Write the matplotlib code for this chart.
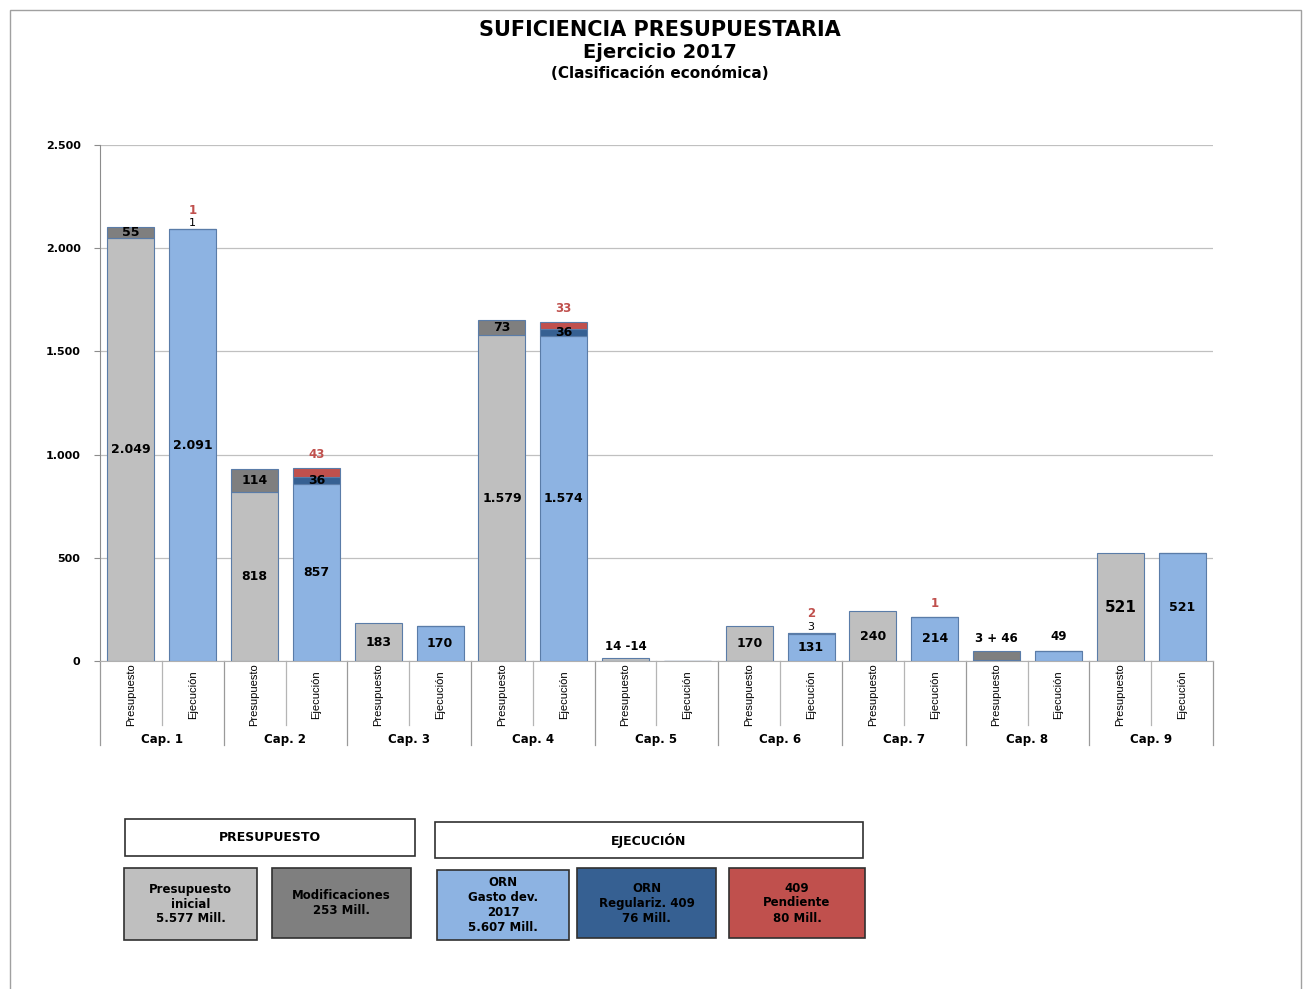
import matplotlib
matplotlib.use("Agg")
import matplotlib.pyplot as plt
from matplotlib.patches import Rectangle
from matplotlib.ticker import FuncFormatter
import matplotlib.transforms as mtransforms

# Datos (millones de euros)
caps = ["Cap. 1", "Cap. 2", "Cap. 3", "Cap. 4", "Cap. 5", "Cap. 6", "Cap. 7", "Cap. 8", "Cap. 9"]
pres_inicial = [2049, 818, 183, 1579, 14, 170, 240, 3, 521]
modificaciones = [55, 114, 0, 73, -14, 0, 0, 46, 0]
orn_gasto = [2091, 857, 170, 1574, 0, 131, 214, 49, 521]
orn_regulariz = [1, 36, 0, 36, 0, 3, 0, 0, 0]
pendiente_409 = [1, 43, 0, 33, 0, 2, 1, 0, 0]
# etiquetas combinadas sobre barras muy pequeñas
pres_top_labels = {4: "14 -14", 7: "3 + 46"}

C_INI = "#bfbfbf"
C_MOD = "#7f7f7f"
C_ORN = "#8db3e2"
C_REG = "#366092"
C_PEN = "#c0504d"
EDGE = "#5a7ca8"


def fmt(v):
    return f"{v:,}".replace(",", ".")


W, H = 1311, 989
fig = plt.figure(figsize=(W / 100, H / 100), dpi=100)
ax = fig.add_axes([100 / W, 1 - 661 / H, (1213 - 100) / W, (661 - 145) / H])

bw = 0.76
xp = [2 * i for i in range(len(caps))]
xe = [2 * i + 1 for i in range(len(caps))]

# Presupuesto: inicial + modificaciones
ax.bar(xp, pres_inicial, bw, color=C_INI, edgecolor=EDGE, linewidth=0.8, zorder=3)
ax.bar(xp, modificaciones, bw, bottom=[b if m > 0 else 0 for b, m in zip(pres_inicial, modificaciones)],
       color=C_MOD, edgecolor=EDGE, linewidth=0.8, zorder=3)

# Ejecución: ORN + regularización + pendiente
bot2 = [a + b for a, b in zip(orn_gasto, orn_regulariz)]
ax.bar(xe, orn_gasto, bw, color=C_ORN, edgecolor=EDGE, linewidth=0.8, zorder=3)
ax.bar(xe, orn_regulariz, bw, bottom=orn_gasto, color=C_REG, edgecolor=EDGE, linewidth=0.8, zorder=3)
ax.bar(xe, pendiente_409, bw, bottom=bot2, color=C_PEN, edgecolor=EDGE, linewidth=0.8, zorder=3)

lab = dict(fontsize=9, fontweight="bold", ha="center", va="center", zorder=5)

for i in range(len(caps)):
    ini, mod = pres_inicial[i], modificaciones[i]
    if i in pres_top_labels:
        ax.annotate(pres_top_labels[i], (xp[i], max(ini, ini + mod)), xytext=(0, 4),
                    textcoords="offset points", fontsize=8.5, fontweight="bold", ha="center", va="bottom")
    else:
        ax.text(xp[i], ini / 2, fmt(ini), **dict(lab, fontsize=11 if ini == 521 else 9))
        if mod > 0:
            ax.text(xp[i], ini + mod / 2, fmt(mod), **lab)

    g, r, p = orn_gasto[i], orn_regulariz[i], pendiente_409[i]
    top = g + r + p
    if g >= 100:
        ax.text(xe[i], g / 2, fmt(g), **lab)
    elif g > 0:
        ax.annotate(fmt(g), (xe[i], top), xytext=(0, 6), textcoords="offset points",
                    fontsize=8.5, fontweight="bold", ha="center", va="bottom")
    red_off = 5
    if r >= 20:
        ax.text(xe[i], g + r / 2, fmt(r), **lab)
    elif r > 0:
        ax.annotate(fmt(r), (xe[i], top), xytext=(0, 1), textcoords="offset points",
                    fontsize=8, ha="center", va="bottom")
        red_off = 9
    if p > 0:
        ax.annotate(fmt(p), (xe[i], top), xytext=(0, red_off), textcoords="offset points",
                    fontsize=8.5, fontweight="bold", color=C_PEN, ha="center", va="bottom")

ax.set_xlim(-0.5, 2 * len(caps) - 0.5)
ax.set_ylim(0, 2500)
ax.set_yticks(range(0, 2501, 500))
ax.yaxis.set_major_formatter(FuncFormatter(lambda v, _: fmt(int(v))))
for t in ax.get_yticklabels():
    t.set_fontweight("bold")
    t.set_fontsize(8)
ax.tick_params(axis="y", length=4, color="#8c8c8c", pad=10)
ax.set_xticks([])
ax.grid(axis="y", color="#c0c0c0", linewidth=0.9, zorder=0)
for s in ["top", "right"]:
    ax.spines[s].set_visible(False)
ax.spines["left"].set_color("#8c8c8c")
ax.spines["bottom"].set_color("#b0b0b0")

# Eje de categorías a dos niveles
trans = mtransforms.blended_transform_factory(ax.transData, ax.transAxes)
for k in range(len(caps) + 1):
    ax.plot([2 * k - 0.5] * 2, [0, -0.163], transform=trans, color="#9a9a9a", lw=0.9, clip_on=False)
for i in range(len(caps)):
    ax.plot([2 * i + 0.5] * 2, [0, -0.124], transform=trans, color="#b5b5b5", lw=0.9, clip_on=False)
    ax.text(xp[i], -0.066, "Presupuesto", transform=trans, rotation=90, ha="center", va="center",
            fontsize=8, family=["Liberation Sans", "DejaVu Sans"])
    ax.text(xe[i], -0.066, "Ejecución", transform=trans, rotation=90, ha="center", va="center",
            fontsize=8, family=["Liberation Sans", "DejaVu Sans"])
    ax.text(2 * i + 0.5, -0.152, caps[i], transform=trans, ha="center", va="center",
            fontsize=8.5, fontweight="bold")

# Títulos
fig.text(660 / W, 1 - 30 / H, "SUFICIENCIA PRESUPUESTARIA", ha="center", va="center",
         fontsize=15, fontweight="bold")
fig.text(660 / W, 1 - 53 / H, "Ejercicio 2017", ha="center", va="center", fontsize=14, fontweight="bold")
fig.text(660 / W, 1 - 74 / H, "(Clasificación económica)", ha="center", va="center",
         fontsize=11, fontweight="bold")


# Leyenda en cajas
def box(x0, y0, x1, y1, color, text, fs=8.5):
    fig.add_artist(Rectangle((x0 / W, 1 - y1 / H), (x1 - x0) / W, (y1 - y0) / H,
                             transform=fig.transFigure, facecolor=color, edgecolor="#303030", lw=1.2))
    fig.text((x0 + x1) / 2 / W, 1 - (y0 + y1) / 2 / H, text, ha="center", va="center",
             fontsize=fs, fontweight="bold", linespacing=1.2)


box(125, 819, 415, 856, "white", "PRESUPUESTO", 9)
box(435, 822, 863, 858, "white", "EJECUCIÓN", 9)
box(124, 868, 257, 940, C_INI, "Presupuesto\ninicial\n5.577 Mill.")
box(272, 868, 411, 938, C_MOD, "Modificaciones\n253 Mill.")
box(437, 870, 569, 940, C_ORN, "ORN\nGasto dev.\n2017\n5.607 Mill.")
box(577, 868, 716, 938, C_REG, "ORN\nRegulariz. 409\n76 Mill.")
box(729, 868, 865, 938, C_PEN, "409\nPendiente\n80 Mill.")

# Marco exterior
fig.add_artist(Rectangle((10 / W, -0.01), 1291 / W, 1 - 10 / H + 0.01, transform=fig.transFigure,
                         facecolor="none", edgecolor="#a0a0a0", lw=1))

fig.savefig("out.png", dpi=100)
